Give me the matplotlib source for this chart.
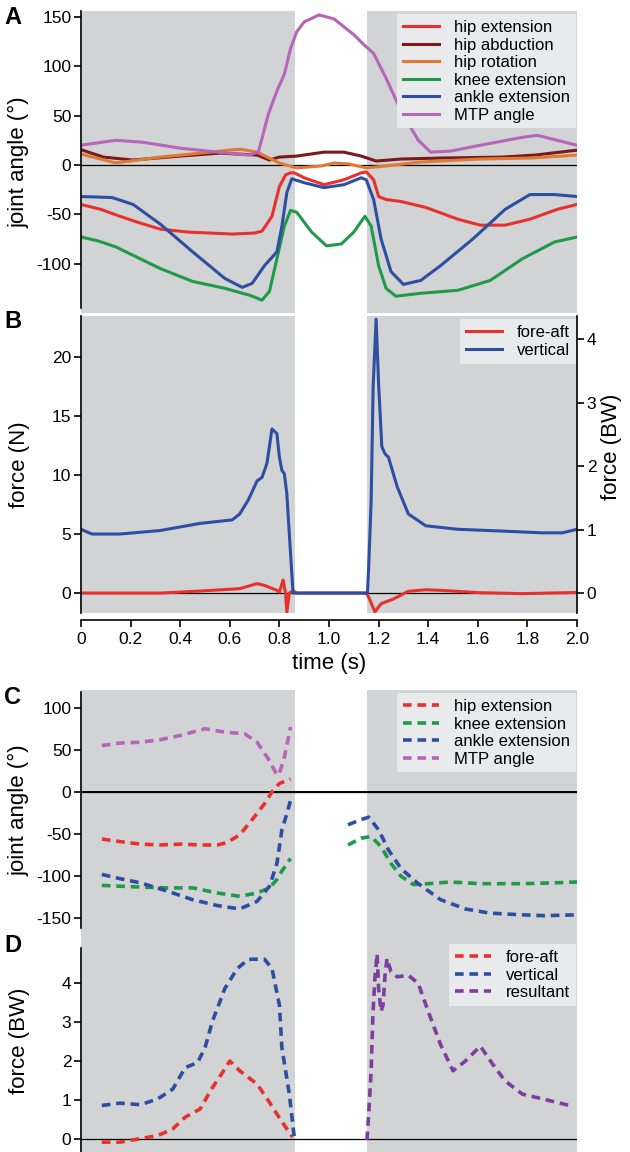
import matplotlib.pyplot as plt

plt.rcParams['font.family'] = ['Liberation Sans', 'DejaVu Sans']
plt.rcParams['axes.unicode_minus'] = False

GRAY = "#d1d3d4"
LEG_BG = "#e9eaeb"
RED = "#e8312f"
DARKRED = "#7b1a1a"
ORANGE = "#e07a33"
GREEN = "#1f9a4b"
BLUE = "#2e4ea1"
MTP = "#b665b8"
RESULT = "#7d3f9e"

# stance phases (s)
stance1 = (0, 0.863)
stance2 = (1.153, 2.0)

# A: joint angles (deg)
t_hip_ext = [0, 0.08, 0.157, 0.24, 0.32, 0.43, 0.61, 0.70, 0.73, 0.77, 0.80, 0.825, 0.845, 0.86, 0.90, 0.98, 1.06,
             1.13, 1.15, 1.18, 1.20, 1.23, 1.29, 1.39, 1.52, 1.61, 1.71, 1.81, 1.92, 2.0]
hip_ext = [-40, -45, -52, -59, -65, -68, -70, -69, -67, -52, -22, -10, -8, -8, -13, -20, -15,
           -8, -7, -15, -32, -35, -37, -43, -55, -61, -61, -55, -45, -40]
t_hip_abd = [0, 0.09, 0.21, 0.40, 0.56, 0.71, 0.76, 0.80, 0.87, 0.98, 1.06, 1.13, 1.19, 1.29, 1.45, 1.70, 1.83, 2.0]
hip_abd = [15.5, 8, 5, 9, 12, 10, 5, 8, 9, 13, 13, 9, 4, 6, 7, 8, 10, 15]
t_hip_rot = [0, 0.14, 0.32, 0.48, 0.64, 0.71, 0.80, 0.87, 0.97, 1.02, 1.08, 1.15, 1.23, 1.37, 1.61, 1.81, 2.0]
hip_rot = [11, 2, 8, 12, 16, 13, 2, -3, -1, 2, 1, -3, -1, 3, 6, 7, 10]
t_knee = [0, 0.07, 0.14, 0.23, 0.32, 0.45, 0.58, 0.68, 0.73, 0.76, 0.79, 0.82, 0.845, 0.87, 0.93, 0.99, 1.05,
          1.10, 1.145, 1.17, 1.20, 1.23, 1.27, 1.37, 1.52, 1.65, 1.78, 1.91, 2.0]
knee = [-73, -77, -83, -94, -105, -118, -125, -132, -137, -128, -95, -62, -46, -48, -68, -82, -80,
        -68, -52, -62, -102, -125, -133, -130, -127, -117, -95, -78, -73]
t_ankle = [0, 0.125, 0.21, 0.32, 0.45, 0.58, 0.65, 0.69, 0.74, 0.79, 0.81, 0.83, 0.85, 0.90, 0.98, 1.06, 1.13,
           1.15, 1.18, 1.21, 1.25, 1.30, 1.37, 1.45, 1.58, 1.71, 1.81, 1.91, 2.0]
ankle = [-32, -33, -40, -60, -88, -115, -124, -120, -102, -88, -62, -28, -14, -18, -23, -20, -13,
         -15, -35, -75, -108, -121, -117, -102, -75, -45, -30, -30, -32]
t_mtp = [0, 0.14, 0.25, 0.40, 0.55, 0.675, 0.715, 0.756, 0.79, 0.82, 0.845, 0.87, 0.90, 0.96, 1.02, 1.10, 1.14,
         1.18, 1.23, 1.29, 1.36, 1.41, 1.49, 1.61, 1.78, 1.84, 1.92, 2.0]
mtp = [20, 25, 23, 17, 13, 10, 13, 52, 75, 92, 118, 135, 145, 152, 148, 132, 122,
       113, 88, 55, 25, 13, 14, 20, 28, 30, 25, 20]

# B: ground reaction force (N)
t_vert = [0, 0.044, 0.157, 0.32, 0.48, 0.61, 0.64, 0.675, 0.71, 0.73, 0.75, 0.77, 0.79, 0.80, 0.81, 0.82,
          0.83, 0.84, 0.855, 1.155, 1.16, 1.17, 1.178, 1.19, 1.20, 1.213, 1.226, 1.24, 1.275, 1.32, 1.39,
          1.52, 1.70, 1.86, 1.94, 2.0]
vert = [5.4, 5.0, 5.0, 5.3, 5.9, 6.2, 6.7, 7.9, 9.5, 9.8, 11.0, 13.9, 13.5, 11.5, 10.4, 10.1,
        8.4, 5.0, 0, 0, 2.2, 7.8, 17.5, 23.2, 17.7, 12.4, 11.8, 11.5, 9.0, 6.7, 5.7,
        5.4, 5.25, 5.1, 5.1, 5.4]
t_fa = [0, 0.32, 0.48, 0.64, 0.71, 0.74, 0.79, 0.80, 0.815, 0.825, 0.83, 0.84, 0.855, 0.87, 1.15, 1.16,
        1.185, 1.21, 1.26, 1.32, 1.39, 1.45, 1.61, 1.78, 2.0]
fa = [0, 0, 0.17, 0.37, 0.8, 0.65, 0.23, 0.08, 1.1, -0.05, -1.6, 0, 0.2, 0, 0, -0.35,
      -1.6, -0.9, -0.5, 0.15, 0.28, 0.23, 0.03, -0.05, 0.05]
N_PER_BW = 5.37

# C: model joint angles (deg)
tc_hip = [0.084, 0.157, 0.24, 0.32, 0.40, 0.48, 0.55, 0.59, 0.64, 0.69, 0.74, 0.77, 0.80, 0.845]
c_hip = [-56, -59, -62, -63, -62, -63, -63, -60, -51, -33, -14, 0, 10, 15]
tc_mtp = [0.084, 0.157, 0.24, 0.32, 0.40, 0.50, 0.58, 0.66, 0.71, 0.76, 0.79, 0.80, 0.82, 0.845]
c_mtp = [55, 58, 59, 62, 67, 75, 71, 69, 59, 37, 20, 22, 41, 77]
tc_ankle1 = [0.084, 0.157, 0.24, 0.35, 0.45, 0.55, 0.64, 0.71, 0.76, 0.79, 0.81, 0.83, 0.845]
c_ankle1 = [-98, -103, -108, -118, -128, -135, -139, -130, -112, -85, -45, -26, -10]
tc_ankle2 = [1.077, 1.129, 1.16, 1.20, 1.24, 1.29, 1.356, 1.45, 1.55, 1.65, 1.78, 1.87, 2.0]
c_ankle2 = [-39, -33, -30, -45, -69, -91, -108, -128, -139, -144, -146, -147, -146]
tc_knee1 = [0.084, 0.157, 0.24, 0.35, 0.45, 0.55, 0.64, 0.71, 0.76, 0.79, 0.81, 0.845]
c_knee1 = [-111, -112, -113, -114, -114, -120, -124, -120, -114, -104, -94, -79]
tc_knee2 = [1.077, 1.129, 1.17, 1.21, 1.25, 1.29, 1.34, 1.40, 1.49, 1.61, 1.78, 1.91, 2.0]
c_knee2 = [-63, -55, -53, -65, -85, -100, -110, -109, -107, -109, -109, -108, -107]

# D: model forces (BW)
td_vert = [0.084, 0.157, 0.24, 0.31, 0.37, 0.42, 0.47, 0.50, 0.53, 0.58, 0.63, 0.675, 0.74, 0.77, 0.80, 0.81, 0.84, 0.86]
d_vert = [0.86, 0.92, 0.88, 1.03, 1.28, 1.83, 1.96, 2.34, 3.02, 3.86, 4.37, 4.61, 4.61, 4.37, 3.44, 2.34, 1.15, 0.05]
td_fa = [0.084, 0.157, 0.24, 0.31, 0.37, 0.42, 0.48, 0.53, 0.57, 0.60, 0.64, 0.71, 0.756, 0.79, 0.82, 0.853]
d_fa = [-0.08, -0.08, 0.01, 0.09, 0.26, 0.56, 0.77, 1.32, 1.70, 2.0, 1.75, 1.41, 0.98, 0.64, 0.35, 0.05]
td_res = [1.153, 1.16, 1.17, 1.177, 1.185, 1.194, 1.20, 1.21, 1.218, 1.226, 1.234, 1.25, 1.275, 1.32, 1.36,
          1.40, 1.45, 1.50, 1.55, 1.61, 1.66, 1.71, 1.78, 1.86, 1.97]
d_res = [-0.03, 0.64, 1.75, 3.19, 4.12, 4.75, 3.86, 3.27, 3.44, 4.20, 4.63, 4.29, 4.16, 4.20, 3.99,
         3.27, 2.42, 1.75, 2.0, 2.38, 1.92, 1.49, 1.15, 1.03, 0.86]

W, H = 630, 1152
fig = plt.figure(figsize=(W / 100, H / 100), dpi=100)

# label anchor = right edge of the rotated text
YLAB_X = (30 - 81) / 496


def box(y_top, y_bot):
    return [81 / W, 1 - y_bot / H, 496 / W, (y_bot - y_top) / H]


def setup(ax, ylim):
    ax.set_xlim(0, 2.0)
    ax.set_ylim(*ylim)
    ax.axvspan(*stance1, color=GRAY, lw=0, zorder=0)
    ax.axvspan(*stance2, color=GRAY, lw=0, zorder=0)
    ax.axhline(0, color="black", lw=0.9, zorder=1)
    for s in ["top", "right", "bottom"]:
        ax.spines[s].set_visible(False)
    ax.spines["left"].set_linewidth(1.2)
    ax.tick_params(axis="y", direction="out", length=5, width=1.2, labelsize=12.5, pad=2)
    ax.set_xticks([])


def legend(ax, anchor=(1.005, 1.0)):
    leg = ax.legend(loc="upper right", bbox_to_anchor=anchor, fontsize=12, frameon=True,
                    fancybox=False, handlelength=2.2, handletextpad=0.9, labelspacing=0.15,
                    borderpad=0.35, borderaxespad=0.2)
    leg.get_frame().set_facecolor(LEG_BG)
    leg.get_frame().set_edgecolor("none")
    leg.get_frame().set_alpha(1)


lw = 2.2

# panel A
axA = fig.add_axes(box(11, 313))
setup(axA, (-150, 156))
axA.plot(t_hip_ext, hip_ext, color=RED, lw=lw, label="hip extension")
axA.plot(t_hip_abd, hip_abd, color=DARKRED, lw=lw, label="hip abduction")
axA.plot(t_hip_rot, hip_rot, color=ORANGE, lw=lw, label="hip rotation")
axA.plot(t_knee, knee, color=GREEN, lw=lw, label="knee extension")
axA.plot(t_ankle, ankle, color=BLUE, lw=lw, label="ankle extension")
axA.plot(t_mtp, mtp, color=MTP, lw=lw, label="MTP angle")
axA.set_yticks([-100, -50, 0, 50, 100, 150])
axA.spines["left"].set_bounds(-145, 156)
axA.set_ylabel("joint angle (°)", fontsize=16)
axA.yaxis.set_label_coords(YLAB_X, 0.5)
legend(axA)

# panel B
axB = fig.add_axes(box(316, 613))
setup(axB, (-1.69, 23.47))
axB.plot(t_fa, fa, color=RED, lw=lw, label="fore-aft")
axB.plot(t_vert, vert, color=BLUE, lw=lw, label="vertical")
axB.set_yticks([0, 5, 10, 15, 20])
axB.set_ylabel("force (N)", fontsize=16)
axB.yaxis.set_label_coords(YLAB_X, 0.5)
axB.spines["bottom"].set_visible(True)
axB.spines["bottom"].set_position(("outward", 5))
axB.spines["bottom"].set_linewidth(1.2)
xt = [0, 0.2, 0.4, 0.6, 0.8, 1.0, 1.2, 1.4, 1.6, 1.8, 2.0]
axB.set_xticks(xt)
axB.set_xticklabels(["0"] + ["%.1f" % v for v in xt[1:]])
axB.tick_params(axis="x", direction="out", length=5, width=1.2, labelsize=12.5, pad=4)
axB.set_xlabel("time (s)", fontsize=16, labelpad=4)
legend(axB)

axB2 = axB.twinx()
axB2.set_ylim(-1.69 / N_PER_BW, 23.47 / N_PER_BW)
axB2.set_yticks([0, 1, 2, 3, 4])
for s in ["top", "left", "bottom"]:
    axB2.spines[s].set_visible(False)
axB2.spines["right"].set_linewidth(1.2)
axB2.tick_params(axis="y", direction="out", length=5, width=1.2, labelsize=12.5, pad=2)
axB2.set_ylabel("force (BW)", fontsize=16)
axB2.yaxis.set_label_coords((601 - 81) / 496, 0.56)

# panel C
ds = (2.4, 1.6)
axC = fig.add_axes(box(690, 930))
setup(axC, (-164, 121))
axC.axhline(0, color="black", lw=1.4, zorder=1)
axC.plot(tc_hip, c_hip, color=RED, lw=2.6, dashes=ds, label="hip extension")
axC.plot(tc_knee1, c_knee1, color=GREEN, lw=2.6, dashes=ds, label="knee extension")
axC.plot(tc_knee2, c_knee2, color=GREEN, lw=2.6, dashes=ds)
axC.plot(tc_ankle1, c_ankle1, color=BLUE, lw=2.6, dashes=ds, label="ankle extension")
axC.plot(tc_ankle2, c_ankle2, color=BLUE, lw=2.6, dashes=ds)
axC.plot(tc_mtp, c_mtp, color=MTP, lw=2.6, dashes=ds, label="MTP angle")
axC.set_yticks([-150, -100, -50, 0, 50, 100])
axC.spines["left"].set_bounds(-162, 119)
axC.set_ylabel("joint angle (°)", fontsize=16)
axC.yaxis.set_label_coords(YLAB_X, 0.5)
legend(axC)

# panel D
axD = fig.add_axes(box(930, 1152))
setup(axD, (-0.333, 5.36))
axD.plot(td_fa, d_fa, color=RED, lw=2.6, dashes=ds, label="fore-aft")
axD.plot(td_vert, d_vert, color=BLUE, lw=2.6, dashes=ds, label="vertical")
axD.plot(td_res, d_res, color=RESULT, lw=2.6, dashes=ds, label="resultant")
axD.set_yticks([0, 1, 2, 3, 4])
axD.spines["left"].set_bounds(-0.333, 4.9)
axD.set_ylabel("force (BW)", fontsize=16)
axD.yaxis.set_label_coords(YLAB_X, 0.5)
legend(axD, anchor=(1.005, 0.95))

# panel letters
for letter, y in [("A", 18), ("B", 322), ("C", 698), ("D", 946)]:
    fig.text(4 / W, 1 - y / H, letter, fontsize=17, fontweight="bold", va="center", ha="left")

fig.savefig("out.png", dpi=100)
